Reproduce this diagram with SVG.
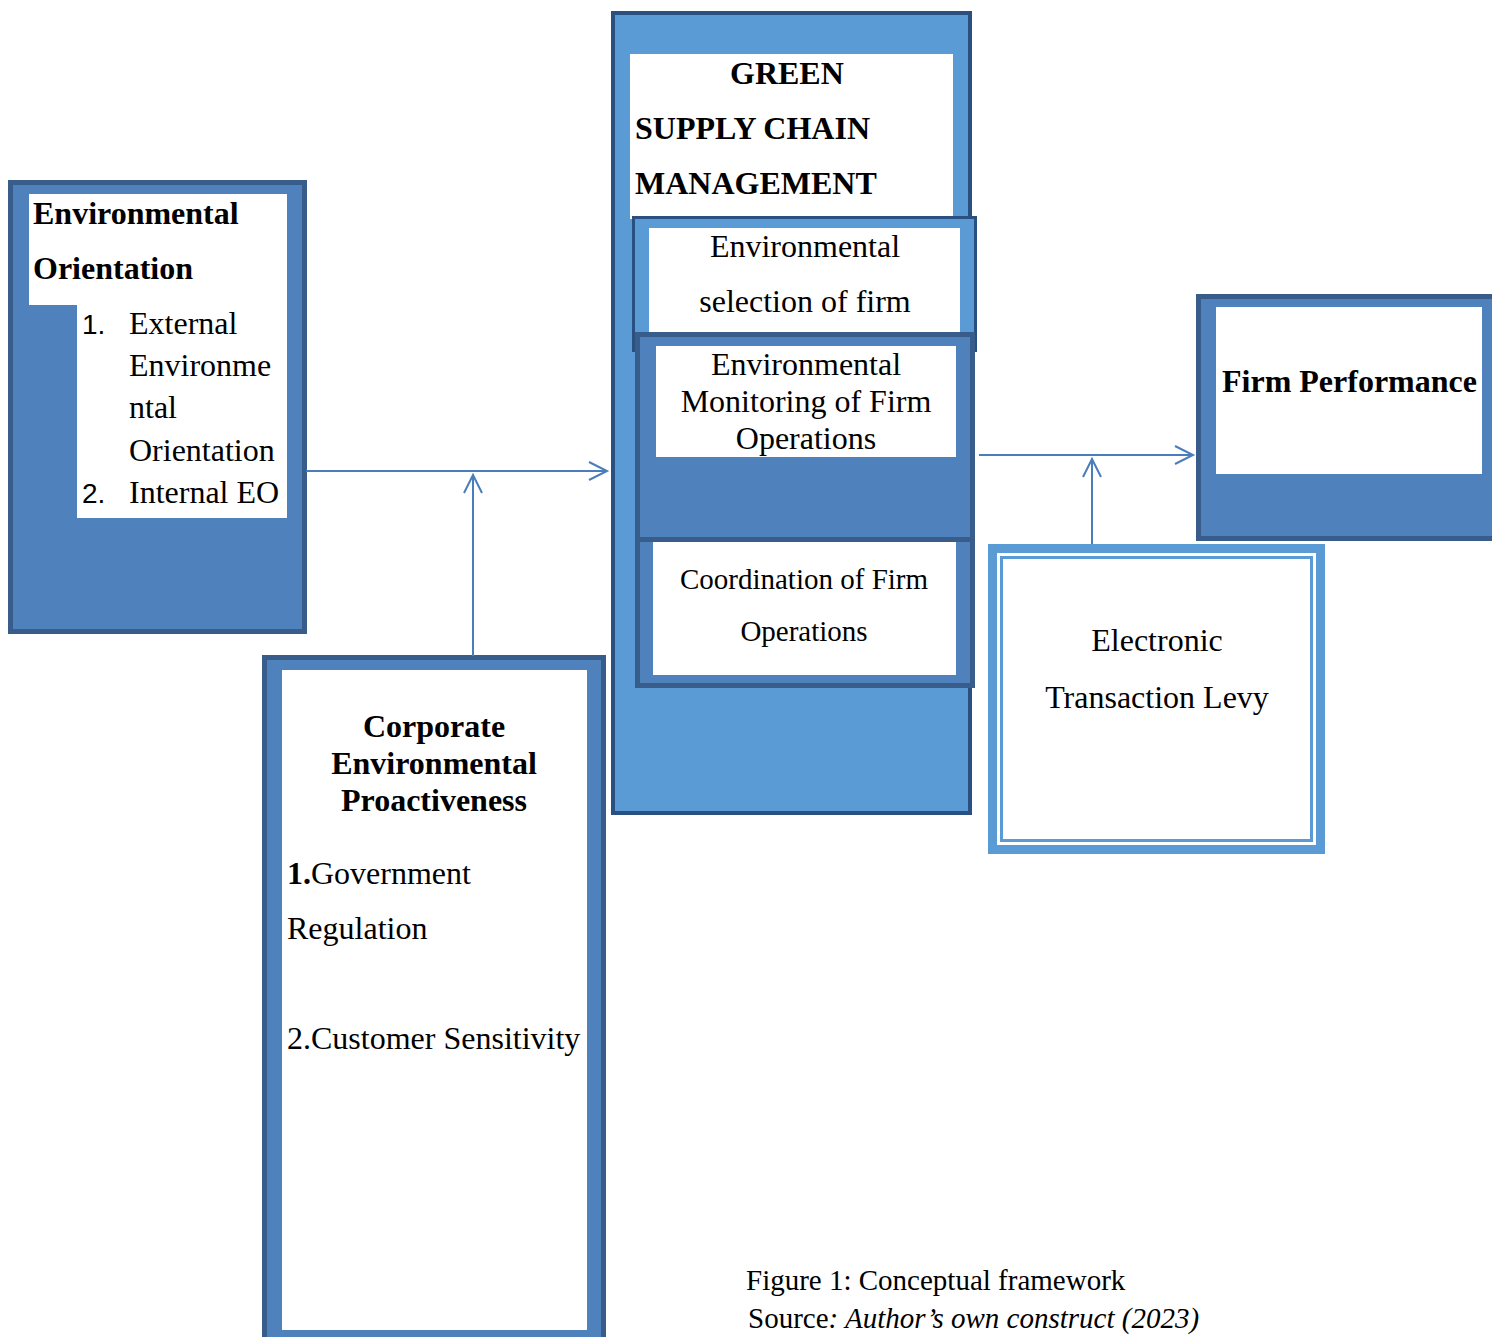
<svg xmlns="http://www.w3.org/2000/svg" width="1492" height="1337" viewBox="0 0 1492 1337">
<defs>
<style>
.t{font-family:"Liberation Serif","Times New Roman",serif;font-size:32px;fill:#000}
.b{font-weight:bold}
.c{text-anchor:middle}
.n{font-family:"Liberation Sans",Arial,sans-serif;font-size:28px;fill:#000}
.s29{font-size:29px}
.box{fill:#4f81bd;stroke:#385d8a;stroke-width:5}
.lbox{fill:#5b9bd5;stroke:#2a5082;stroke-width:4}
.w{fill:#fff}
.conn{stroke:#4a7ebb;stroke-width:2;fill:none}
</style>
<marker id="arr" markerUnits="userSpaceOnUse" markerWidth="24" markerHeight="24" refX="20" refY="10" orient="auto" viewBox="0 0 24 20">
<path d="M2,1 L20,10 L2,19" fill="none" stroke="#4a7ebb" stroke-width="2"/>
</marker>
</defs>
<rect width="1492" height="1337" fill="#fff"/>

<g id="env-orientation">
<rect class="box" x="10.5" y="182.5" width="294" height="449"/>
<rect class="w" x="29" y="194" width="258" height="111"/>
<rect class="w" x="77" y="305" width="210" height="213"/>
<text class="t b" x="33" y="224">Environmental</text>
<text class="t b" x="33" y="279">Orientation</text>
<text class="n" x="82" y="334">1.</text>
<text class="t" x="129" y="334">External</text>
<text class="t" x="129" y="376">Environme</text>
<text class="t" x="129" y="418">ntal</text>
<text class="t" x="129" y="461">Orientation</text>
<text class="n" x="82" y="503">2.</text>
<text class="t" x="129" y="503">Internal EO</text>
</g>

<g id="gscm">
<rect class="lbox" x="613" y="13" width="357" height="800"/>
<rect class="w" x="630" y="54" width="323" height="165"/>
<text class="t b" x="730" y="84">GREEN</text>
<text class="t b" x="635" y="139">SUPPLY CHAIN</text>
<text class="t b" x="635" y="194">MANAGEMENT</text>
</g>

<g id="env-selection">
<rect class="lbox" x="633.5" y="217.5" width="342" height="133" style="stroke-width:3"/>
<rect class="w" x="649" y="228" width="311" height="106"/>
<text class="t c" x="805" y="257">Environmental</text>
<text class="t c" x="805" y="312">selection of firm</text>
</g>

<g id="env-monitoring">
<rect class="box" x="637.5" y="334.5" width="335" height="205"/>
<rect class="w" x="656" y="346" width="300" height="111"/>
<text class="t c" x="806" y="375">Environmental</text>
<text class="t c" x="806" y="412">Monitoring of Firm</text>
<text class="t c" x="806" y="449">Operations</text>
</g>

<g id="coordination">
<rect class="box" x="637.5" y="539.5" width="335" height="146"/>
<rect class="w" x="653" y="542" width="303" height="133"/>
<text class="t s29 c" x="804" y="589">Coordination of Firm</text>
<text class="t s29 c" x="804" y="641">Operations</text>
</g>

<g id="firm-performance">
<rect class="box" x="1198.5" y="296.5" width="300" height="242"/>
<rect class="w" x="1216" y="307" width="266" height="167"/>
<text class="t b" x="1222" y="392">Firm Performance</text>
</g>

<g id="etl">
<rect x="992.5" y="548.5" width="328" height="301" fill="#fff" stroke="#5b9bd5" stroke-width="9"/>
<rect x="1001.5" y="557.5" width="310" height="283" fill="none" stroke="#5b9bd5" stroke-width="3"/>
<text class="t c" x="1157" y="651">Electronic</text>
<text class="t c" x="1157" y="708">Transaction Levy</text>
</g>

<g id="cep">
<rect class="box" x="264.5" y="657.5" width="339" height="690"/>
<rect class="w" x="282" y="670" width="305" height="660"/>
<text class="t b c" x="434" y="737">Corporate</text>
<text class="t b c" x="434" y="774">Environmental</text>
<text class="t b c" x="434" y="811">Proactiveness</text>
<text class="t" x="287" y="884"><tspan class="b">1.</tspan>Government</text>
<text class="t" x="287" y="939">Regulation</text>
<text class="t" x="287" y="1049">2.Customer Sensitivity</text>
</g>

<g id="connectors">
<path class="conn" d="M306 471 H607" marker-end="url(#arr)"/>
<path class="conn" d="M473 656 V475" marker-end="url(#arr)"/>
<path class="conn" d="M979 455 H1193" marker-end="url(#arr)"/>
<path class="conn" d="M1092 544 V459" marker-end="url(#arr)"/>
</g>

<g id="caption">
<text class="t s29" x="746" y="1290">Figure 1: Conceptual framework</text>
<text class="t s29" x="748" y="1328">Source<tspan font-style="italic">: Author’s own construct (2023)</tspan></text>
</g>
</svg>
